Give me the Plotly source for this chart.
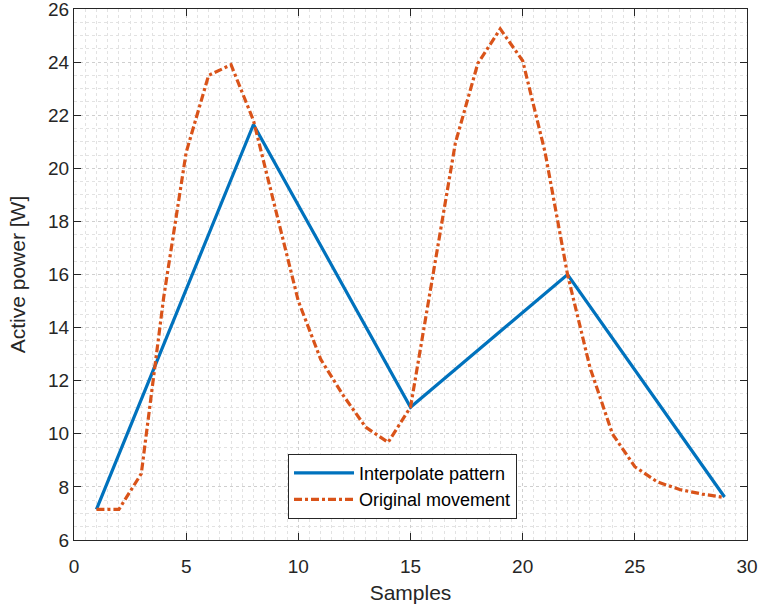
import plotly.graph_objects as go

# Data
samples_interp = [1, 8, 15, 22, 29]
power_interp = [7.15, 21.65, 11.0, 16.0, 7.62]

samples_orig = list(range(1, 30))
power_orig = [7.15, 7.15, 8.5, 15.15, 20.6, 23.5, 23.9, 21.8, 18.4, 15.0,
              12.8, 11.45, 10.25, 9.68, 11.0, 15.9, 20.95, 23.95, 25.25, 24.05,
              20.6, 16.0, 12.5, 10.0, 8.76, 8.19, 7.9, 7.73, 7.6]

x_ticks = [0, 5, 10, 15, 20, 25, 30]
y_ticks = [6, 8, 10, 12, 14, 16, 18, 20, 22, 24, 26]

FONT = "Liberation Sans, Arial, Helvetica, sans-serif"
AX = "#262626"

fig = go.Figure()
fig.add_trace(go.Scatter(
    x=samples_interp, y=power_interp, mode="lines",
    name="Interpolate pattern",
    line=dict(color="#0072BD", width=3.2),
))
fig.add_trace(go.Scatter(
    x=samples_orig, y=power_orig, mode="lines",
    name="Original movement",
    line=dict(color="#D95319", width=3.2, dash="8px,3px,3px,3px"),
))

axis_common = dict(
    showline=True, linecolor=AX, linewidth=1, mirror="ticks",
    ticks="inside", ticklen=7, tickcolor=AX, tickwidth=1,
    showgrid=True, gridcolor="#cfcfcf", griddash="dot", gridwidth=1,
    zeroline=False, automargin=False, ticklabeloverflow="allow",
    tickfont=dict(family=FONT, size=19, color=AX),
    minor=dict(showgrid=True, gridcolor="#e2e2e2", griddash="dot",
               gridwidth=1, ticks=""),
)

fig.update_xaxes(
    range=[0, 30.0001], tickvals=x_ticks, ticktext=[str(v) for v in x_ticks],
    minor_dtick=0.5, ticklabelstandoff=9,
    title=dict(text="Samples", font=dict(family=FONT, size=21, color=AX), standoff=9),
    **axis_common,
)
fig.update_yaxes(
    range=[6, 26.0001], tickvals=y_ticks, ticktext=[str(v) for v in y_ticks],
    minor_dtick=0.5,
    title=dict(text="Active power [W]", font=dict(family=FONT, size=21, color=AX), standoff=16),
    **axis_common,
)

fig.update_layout(
    width=761, height=609,
    margin=dict(l=74, r=14, t=9, b=69),
    paper_bgcolor="white", plot_bgcolor="white",
    showlegend=True,
    legend=dict(
        x=0.318, y=0.04, xanchor="left", yanchor="bottom",
        bgcolor="white", bordercolor=AX, borderwidth=1,
        font=dict(family=FONT, size=18, color="black"),
        itemwidth=60, tracegroupgap=0,
    ),
)

fig.write_html("out.html", config={"displayModeBar": False},
               post_script="document.body.style.margin='0';")
